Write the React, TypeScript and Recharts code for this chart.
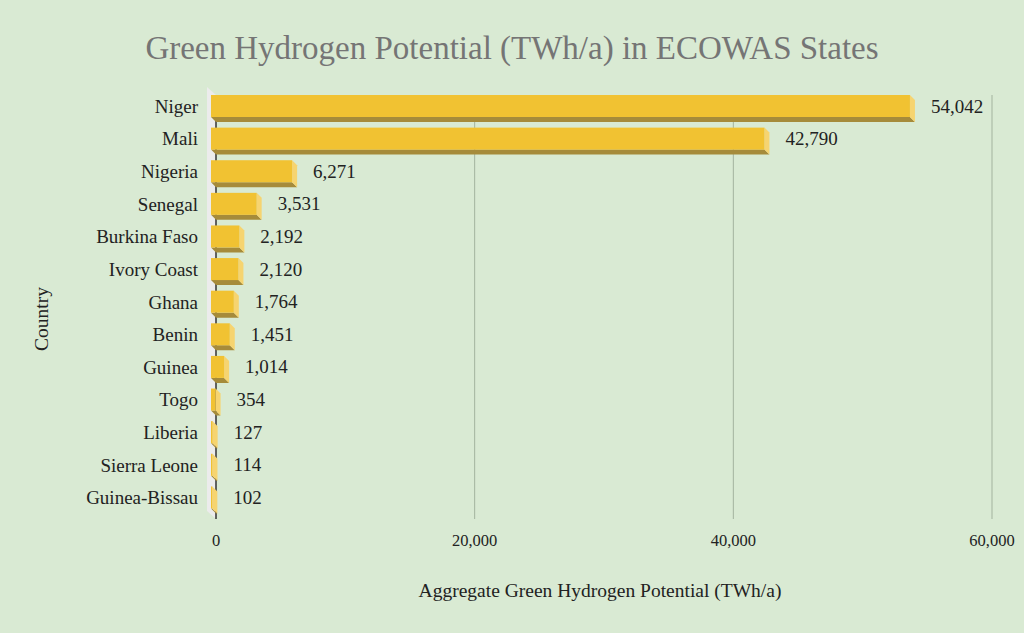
import React from "react";
import { BarChart, Bar, XAxis, YAxis, CartesianGrid, LabelList } from "recharts";

const countries = [
  "Niger", "Mali", "Nigeria", "Senegal", "Burkina Faso", "Ivory Coast", "Ghana",
  "Benin", "Guinea", "Togo", "Liberia", "Sierra Leone", "Guinea-Bissau",
];
const potentials = [54042, 42790, 6271, 3531, 2192, 2120, 1764, 1451, 1014, 354, 127, 114, 102];
const xTicks = [0, 20000, 40000, 60000];

const data = countries.map((c, i) => ({ country: c, value: potentials[i] }));

const FONT = "'Liberation Serif', 'DejaVu Serif', serif";
const DEPTH = 5;
const fmt = (v: number) => v.toLocaleString("en-US");

const Bar3D = (p: any) => {
  const { x, y, width, height } = p;
  const w = Math.max(width, 0);
  const fx = x - DEPTH;
  const fy = y - DEPTH;
  return (
    <g>
      <polygon
        points={`${fx},${fy + height} ${fx + w},${fy + height} ${x + w},${y + height} ${x},${y + height}`}
        fill="#a68b3a"
      />
      <polygon
        points={`${fx + w},${fy} ${x + w},${y} ${x + w},${y + height} ${fx + w},${fy + height}`}
        fill="#f6d470"
      />
      <rect x={fx} y={fy} width={w} height={height} fill="#f1c232" />
    </g>
  );
};

const GridLine = (p: any) => {
  const { x1, y1, x2, y2, index } = p;
  const top = Math.min(y1, y2);
  const bot = Math.max(y1, y2);
  if (index === 0) {
    const d = 8;
    return (
      <g key={`wall-${index}`}>
        <polygon
          points={`${x1 - d - 1},${top - d} ${x1},${top} ${x1},${bot} ${x1 - d - 1},${bot - d}`}
          fill="#ececec"
        />
        <line x1={x1} y1={top} x2={x1} y2={bot} stroke="#333333" strokeWidth={1.5} />
      </g>
    );
  }
  return <line key={`g-${index}`} x1={x1} y1={y1} x2={x2} y2={y2} stroke="#a3b39e" strokeWidth={1} />;
};

const CatTick = (p: any) => {
  const { x, y, payload } = p;
  return (
    <text
      x={x}
      y={y - DEPTH}
      textAnchor="end"
      dominantBaseline="central"
      fontFamily={FONT}
      fontSize={19}
      fill="#222222"
    >
      {payload.value}
    </text>
  );
};

const ValueLabel = (p: any) => {
  const { x, y, width, height, value } = p;
  return (
    <text
      x={x + width + 16}
      y={y + height / 2 - DEPTH}
      textAnchor="start"
      dominantBaseline="central"
      fontFamily={FONT}
      fontSize={19}
      fill="#222222"
    >
      {fmt(value)}
    </text>
  );
};

export default function App() {
  return (
    <div
      style={{
        position: "absolute",
        left: 0,
        top: 0,
        width: 1024,
        height: 633,
        background: "#d9ead3",
        overflow: "hidden",
      }}
    >
      <div
        style={{
          position: "absolute",
          left: 0,
          top: 27,
          width: 1024,
          textAlign: "center",
          fontFamily: FONT,
          fontSize: 33,
          color: "#757575",
          lineHeight: "42px",
        }}
      >
        Green Hydrogen Potential (TWh/a) in ECOWAS States
      </div>
      <div
        style={{
          position: "absolute",
          left: 212,
          top: 577,
          width: 776,
          textAlign: "center",
          fontFamily: FONT,
          fontSize: 19.5,
          color: "#222222",
          lineHeight: "28px",
        }}
      >
        Aggregate Green Hydrogen Potential (TWh/a)
      </div>
      <div
        style={{
          position: "absolute",
          left: 42,
          top: 319,
          transform: "translate(-50%, -50%) rotate(-90deg)",
          fontFamily: FONT,
          fontSize: 19.5,
          color: "#222222",
          whiteSpace: "nowrap",
        }}
      >
        Country
      </div>
      <div style={{ position: "absolute", left: 0, top: 0 }}>
        <BarChart
          width={1024}
          height={633}
          data={data}
          layout="vertical"
          margin={{ top: 95, right: 32, bottom: 84, left: 0 }}
          barSize={22}
        >
          <CartesianGrid horizontal={false} vertical={<GridLine />} />
          <XAxis
            type="number"
            domain={[0, 60000]}
            ticks={xTicks}
            tickFormatter={fmt}
            axisLine={false}
            tickLine={false}
            height={30}
            tickMargin={9}
            tick={{ fontFamily: FONT, fontSize: 16.5, fill: "#222222" }}
            interval={0}
          />
          <YAxis
            type="category"
            dataKey="country"
            width={216}
            axisLine={false}
            tickLine={false}
            tickSize={0}
            tickMargin={18}
            tick={<CatTick />}
            interval={0}
          />
          <Bar dataKey="value" shape={<Bar3D />} isAnimationActive={false}>
            <LabelList dataKey="value" content={<ValueLabel />} />
          </Bar>
        </BarChart>
      </div>
    </div>
  );
}
